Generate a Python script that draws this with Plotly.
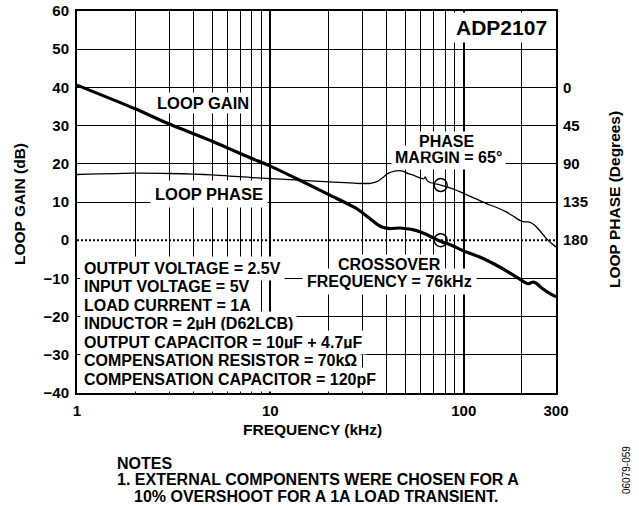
import math
import plotly.graph_objects as go

# Loop gain magnitude (dB) against frequency (kHz)
gain_freq_khz = [1, 2, 3, 5, 7.84, 10, 14.2, 20.3, 27.9, 33, 36, 38.4, 41.5, 46.7,
                 50.7, 55, 59.3, 66.9, 75.3, 88, 100, 121, 142, 166, 195, 208, 216,
                 226, 236, 256, 280, 300]
gain_db = [40.6, 34.4, 30.4, 25.9, 21.6, 19.4, 15.7, 11.8, 8.3, 5.5, 4.0, 3.3, 3.05,
           3.2, 3.0, 2.7, 2.2, 1.05, -0.2, -1.5, -2.8, -4.4, -6.1, -8.0, -10.2,
           -11.1, -11.4, -11.0, -11.2, -12.7, -14.0, -14.8]

# Loop phase (degrees) against frequency (kHz)
phase_freq_khz = [1, 2, 3, 5, 8, 10, 14.2, 20.3, 30, 33, 36, 38.5, 40.6, 44, 48.5,
                  51.5, 54.8, 60.5, 62.3, 63.2, 64.5, 67, 76, 88, 100, 115, 131,
                  148, 166, 180, 195, 207, 219, 233, 250, 268, 285, 300]
phase_deg = [102.6, 101.0, 101.4, 103.0, 106.2, 107.5, 109.3, 111.3, 113.2, 113.0,
             110.5, 105.5, 101.3, 98.5, 98.6, 101.5, 103.4, 107.2, 107.6, 105.5,
             109.5, 112.0, 115.0, 119.5, 125.0, 131.0, 136.8, 141.5, 146.7, 151.5,
             156.6, 158.4, 158.6, 162.3, 170.0, 178.2, 184.0, 187.9]

# Crossover point and phase margin
crossover_khz = 76
crossover_gain_db = 0
phase_margin_deg = 65
phase_at_crossover = 180 - phase_margin_deg

# Axis ticks
gain_ticks = list(range(-40, 61, 10))
gain_ticktext = [str(v).replace("-", "\u2212") for v in gain_ticks]
phase_ticks = [0, 45, 90, 135, 180]
freq_ticks = [1, 10, 100, 300]
freq_minor = [2, 3, 4, 5, 6, 7, 8, 9, 20, 30, 40, 50, 60, 70, 80, 90, 200]

conditions = [
    "OUTPUT VOLTAGE = 2.5V",
    "INPUT VOLTAGE = 5V",
    "LOAD CURRENT = 1A",
    "INDUCTOR = 2\u00b5H (D62LCB)",
    "OUTPUT CAPACITOR = 10\u00b5F + 4.7\u00b5F",
    "COMPENSATION RESISTOR = 70k\u03a9",
    "COMPENSATION CAPACITOR = 120pF",
]

FONT = "Liberation Sans, Arial, Helvetica, sans-serif"
W, H = 639, 506
L, R, T, B = 77, 556, 11, 393


def px(xp):
    return (xp - L) / (R - L)


def py(yp):
    return (B - yp) / (B - T)


fig = go.Figure()

fig.add_trace(go.Scatter(
    x=gain_freq_khz, y=gain_db, mode="lines", yaxis="y",
    line=dict(color="black", width=3.2, shape="spline", smoothing=0.6),
    showlegend=False, hoverinfo="skip"))

fig.add_trace(go.Scatter(
    x=phase_freq_khz, y=phase_deg, mode="lines", yaxis="y2",
    line=dict(color="black", width=1.3, shape="spline", smoothing=0.6),
    showlegend=False, hoverinfo="skip"))

fig.add_trace(go.Scatter(
    x=[crossover_khz], y=[crossover_gain_db], mode="markers", yaxis="y",
    marker=dict(symbol="circle-open", size=13, color="black", line=dict(width=1.5)),
    showlegend=False, hoverinfo="skip"))

fig.add_trace(go.Scatter(
    x=[crossover_khz], y=[phase_at_crossover], mode="markers", yaxis="y2",
    marker=dict(symbol="circle-open", size=13, color="black", line=dict(width=1.5)),
    showlegend=False, hoverinfo="skip"))

# 0 dB / 180 degree reference
fig.add_shape(type="line", xref="paper", x0=0, x1=1, yref="y", y0=0, y1=0,
              line=dict(color="black", width=2, dash="2px,2px"), layer="above")

annotations = []


def label(text, xp, yp, size=16, anchor="center", pad=4, weight="bold",
          bg="white", angle=0):
    annotations.append(dict(
        text=text, xref="paper", yref="paper", x=px(xp), y=py(yp),
        xanchor=anchor, yanchor="middle", showarrow=False,
        font=dict(family=FONT, size=size, color="black", weight=weight),
        bgcolor=bg, borderpad=pad, textangle=angle))


label("ADP2107", 501, 27.5, size=21, pad=3)
label("LOOP GAIN", 203, 103, size=16.5, pad=1)
label("LOOP PHASE", 209, 194, size=16.5)
# lower lines first so the upper line's box never hides them
label(f"MARGIN = {phase_margin_deg}\u00b0", 448, 157, pad=3)
label("PHASE", 446, 141, pad=1)
label(f"FREQUENCY = {crossover_khz}kHz", 389, 281, pad=4)
label("CROSSOVER", 389.5, 264, pad=1)
for i, line in enumerate(conditions):
    label(line, 80, 268.3 + 18.5 * i, anchor="left", pad=3)

# Axis titles
label("LOOP GAIN (dB)", 20, 204, size=15.5, bg=None, pad=0, angle=-90)
label("LOOP PHASE (Degrees)", 614, 200, size=15.5, bg=None, pad=0, angle=-90)
label("FREQUENCY (kHz)", 312, 429, size=15.5, bg=None, pad=0)

# Notes
label("NOTES", 116, 463, bg=None, pad=0, anchor="left")
label("1. EXTERNAL COMPONENTS WERE CHOSEN FOR A", 116, 479, bg=None, pad=0, anchor="left")
label("10% OVERSHOOT FOR A 1A LOAD TRANSIENT.", 133, 496, bg=None, pad=0, anchor="left")
label("06079-059", 626, 470, size=10, bg=None, pad=0, weight="normal", angle=-90)

tickfont = dict(family=FONT, size=15, color="black", weight="bold")

fig.update_layout(
    width=W, height=H,
    margin=dict(l=L, r=W - R, t=T, b=H - B, autoexpand=False),
    paper_bgcolor="white", plot_bgcolor="white",
    showlegend=False,
    annotations=annotations,
    xaxis=dict(
        type="log", range=[0, math.log10(300)],
        tickmode="array", tickvals=freq_ticks, ticktext=[str(v) for v in freq_ticks],
        tickfont=tickfont, ticks="", ticklabelstandoff=3,
        showgrid=True, gridcolor="black", gridwidth=2,
        minor=dict(tickmode="array", tickvals=freq_minor, showgrid=True,
                   gridcolor="black", gridwidth=1, ticks=""),
        showline=True, linecolor="black", linewidth=2, mirror=True,
        zeroline=False, fixedrange=True,
    ),
    yaxis=dict(
        range=[-40, 60], tickmode="array", tickvals=gain_ticks, ticktext=gain_ticktext,
        tickfont=tickfont, ticks="", ticklabelstandoff=3,
        showgrid=True, gridcolor="black", gridwidth=1,
        zeroline=True, zerolinecolor="rgba(0,0,0,0)",
        showline=True, linecolor="black", linewidth=2, mirror=True, fixedrange=True,
    ),
    yaxis2=dict(
        overlaying="y", side="right", range=[360, -90],
        tickmode="array", tickvals=phase_ticks, ticktext=[str(v) for v in phase_ticks],
        tickfont=tickfont, ticks="", ticklabelstandoff=6,
        showgrid=False, zeroline=False, showline=False, fixedrange=True,
    ),
)

fig.write_html("out.html", config={"displayModeBar": False})
